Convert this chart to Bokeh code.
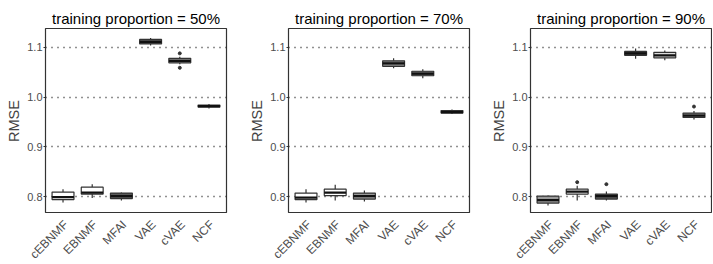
import math
from bokeh.plotting import figure
from bokeh.layouts import row, column
from bokeh.models import Range1d, FixedTicker, ColumnDataSource
from bokeh.core.properties import value
from bokeh.embed import file_html
from bokeh.resources import INLINE

methods = ["cEBNMF", "EBNMF", "MFAI", "VAE", "cVAE", "NCF"]
proportions = ["50%", "70%", "90%"]
y_ticks = [0.8, 0.9, 1.0, 1.1]
y_tick_labels = ["0.8", "0.9", "1.0", "1.1"]

# training proportion = 50%
p50_low = [0.788, 0.797, 0.792, 1.104, 1.066, 0.977]
p50_q1 = [0.794, 0.805, 0.796, 1.107, 1.069, 0.980]
p50_med = [0.799, 0.808, 0.801, 1.111, 1.073, 0.982]
p50_q3 = [0.809, 0.819, 0.807, 1.116, 1.078, 0.984]
p50_high = [0.815, 0.825, 0.808, 1.119, 1.081, 0.986]
p50_out_method = ["cVAE", "cVAE"]
p50_out_value = [1.088, 1.059]

# training proportion = 70%
p70_low = [0.788, 0.792, 0.790, 1.058, 1.038, 0.966]
p70_q1 = [0.794, 0.802, 0.795, 1.062, 1.043, 0.968]
p70_med = [0.798, 0.808, 0.801, 1.068, 1.047, 0.970]
p70_q3 = [0.807, 0.815, 0.807, 1.073, 1.052, 0.973]
p70_high = [0.815, 0.824, 0.812, 1.078, 1.056, 0.975]
p70_out_method = []
p70_out_value = []

# training proportion = 90%
p90_low = [0.782, 0.792, 0.792, 1.077, 1.074, 0.955]
p90_q1 = [0.787, 0.805, 0.795, 1.084, 1.079, 0.959]
p90_med = [0.793, 0.810, 0.801, 1.088, 1.084, 0.963]
p90_q3 = [0.801, 0.815, 0.805, 1.092, 1.090, 0.968]
p90_high = [0.802, 0.822, 0.810, 1.098, 1.094, 0.972]
p90_out_method = ["EBNMF", "MFAI", "NCF"]
p90_out_value = [0.829, 0.825, 0.981]

panels = [
    (p50_low, p50_q1, p50_med, p50_q3, p50_high, p50_out_method, p50_out_value),
    (p70_low, p70_q1, p70_med, p70_q3, p70_high, p70_out_method, p70_out_value),
    (p90_low, p90_q1, p90_med, p90_q3, p90_high, p90_out_method, p90_out_value),
]

# styling / layout
fills = [
    ["#ffffff", "#ffffff", "#5a5a5a", "#5a5a5a", "#8c8c8c", "#4a4a4a"],
    ["#ffffff", "#ffffff", "#9a9a9a", "#8c8c8c", "#5a5a5a", "#4a4a4a"],
    ["#9a9a9a", "#ffffff", "#5a5a5a", "#4a4a4a", "#dddddd", "#8c8c8c"],
]
FONT = "Liberation Sans"
LINE = "#333333"
BOXW = 0.75
X_LO, X_HI = 0.4, 6.6
Y_LO, Y_HI = 0.766, 1.138
LEFT = 45
FRAME_W = 181
RIGHTS = [17, 16, 1]
TOP = 28
FRAME_H = 185
LABEL_H = 50
LABEL_GAP_PX = 9
LABEL_SHIFT_PX = 3

main_figs = []
label_figs = []
for i, (low, q1, med, q3, high, om, ov) in enumerate(panels):
    xs = [k + 1 for k in range(len(methods))]
    W = LEFT + FRAME_W + RIGHTS[i]
    p = figure(width=W, height=TOP + FRAME_H, output_backend="svg", toolbar_location=None,
               x_range=Range1d(X_LO, X_HI), y_range=Range1d(Y_LO, Y_HI),
               min_border_left=LEFT, min_border_right=RIGHTS[i],
               min_border_top=TOP, min_border_bottom=0,
               title="training proportion = " + proportions[i])
    p.title.text_font = FONT
    p.title.text_font_size = "15px"
    p.title.text_font_style = "normal"
    p.title.text_color = "#000000"
    p.title.align = "center"
    p.title.standoff = 3
    p.outline_line_color = LINE
    p.outline_line_width = 1.2
    p.xgrid.visible = False
    p.ygrid.grid_line_color = "#222222"
    p.ygrid.grid_line_dash = "1 5"
    p.ygrid.grid_line_width = 1.4
    p.xaxis.visible = False
    p.yaxis.ticker = FixedTicker(ticks=y_ticks)
    p.yaxis.major_label_overrides = {t: l for t, l in zip(y_ticks, y_tick_labels)}
    p.yaxis.axis_line_color = None
    p.yaxis.minor_tick_line_color = None
    p.yaxis.major_tick_line_color = LINE
    p.yaxis.major_tick_out = 2
    p.yaxis.major_tick_in = 0
    p.yaxis.major_label_standoff = 1
    p.yaxis.major_label_text_font = FONT
    p.yaxis.major_label_text_font_size = "11px"
    p.yaxis.major_label_text_color = "#4d4d4d"
    p.yaxis.axis_label = "RMSE"
    p.yaxis.axis_label_text_font = FONT
    p.yaxis.axis_label_text_font_size = "14.5px"
    p.yaxis.axis_label_text_font_style = "normal"
    p.yaxis.axis_label_standoff = 2

    src = ColumnDataSource(dict(x=xs, low=low, q1=q1, med=med, q3=q3, high=high,
                                x0=[x - BOXW / 2 for x in xs], x1=[x + BOXW / 2 for x in xs],
                                fill=fills[i]))
    p.segment(x0="x", y0="q3", x1="x", y1="high", source=src, line_color=LINE, line_width=1.2)
    p.segment(x0="x", y0="q1", x1="x", y1="low", source=src, line_color=LINE, line_width=1.2)
    p.vbar(x="x", width=BOXW, bottom="q1", top="q3", source=src, fill_color="fill",
           line_color=LINE, line_width=1.2)
    p.segment(x0="x0", y0="med", x1="x1", y1="med", source=src, line_color="#111111", line_width=2.2)
    if om:
        ox = [methods.index(m) + 1 for m in om]
        p.scatter(x=ox, y=ov, size=3, color=LINE)
    main_figs.append(p)

    # strip below the frame carrying the rotated category labels, same x scale as the panel
    ppu = FRAME_W / (X_HI - X_LO)
    q = figure(width=W, height=LABEL_H, output_backend="svg", toolbar_location=None,
               x_range=Range1d(X_LO - LEFT / ppu, X_HI + RIGHTS[i] / ppu),
               y_range=Range1d(-LABEL_H, 0),
               min_border_left=0, min_border_right=0, min_border_top=0, min_border_bottom=0)
    q.axis.visible = False
    q.grid.visible = False
    q.outline_line_color = None
    lsrc = ColumnDataSource(dict(x=xs, y=[-LABEL_GAP_PX] * len(xs), text=methods))
    q.text(x="x", y="y", text="text", source=lsrc, angle=math.pi / 4,
           x_offset=LABEL_SHIFT_PX, text_align="right", text_baseline="middle",
           text_font=value(FONT), text_font_size="12px", text_color="#4d4d4d")
    label_figs.append(q)

layout = column(row(*main_figs, spacing=0), row(*label_figs, spacing=0), spacing=0)
open("out.html", "w").write(file_html(layout, INLINE))
